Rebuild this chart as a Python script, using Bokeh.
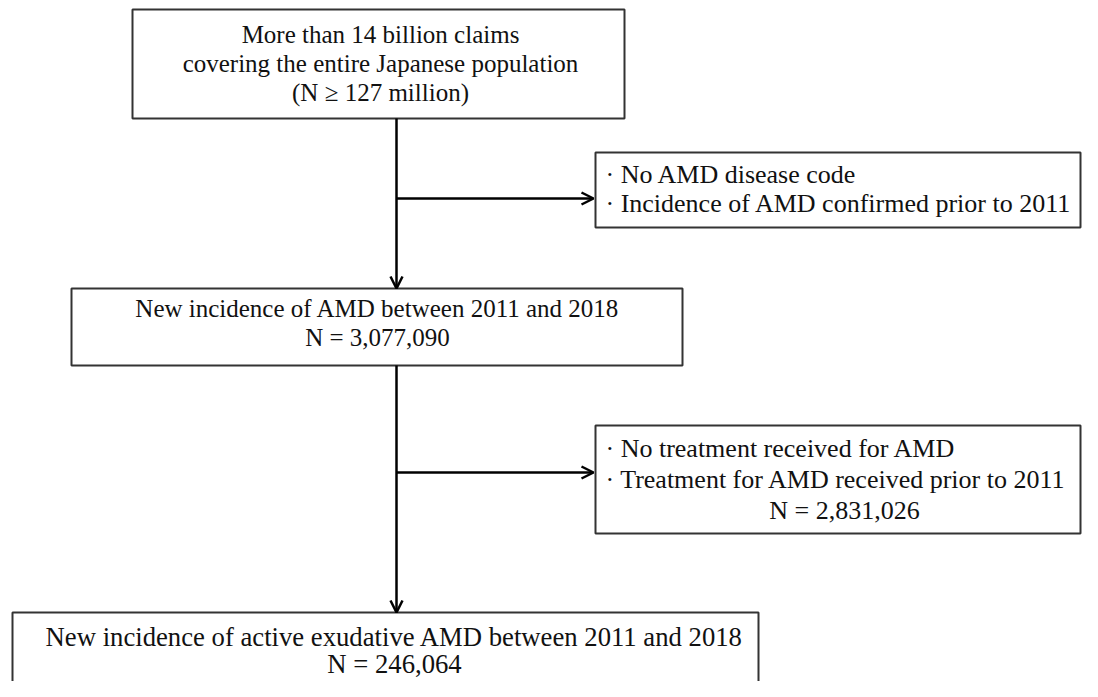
from bokeh.plotting import figure
from bokeh.models import Arrow, OpenHead, Range1d
from bokeh.core.properties import value
from bokeh.embed import file_html
from bokeh.resources import INLINE

# ---- data (flowchart texts / counts) ----
box_top_lines = ["More than 14 billion claims",
                 "covering the entire Japanese population",
                 "(N \u2265 127 million)"]
excl1_lines = ["\u00b7 No AMD disease code",
               "\u00b7 Incidence of AMD confirmed prior to 2011"]
box_mid_lines = ["New incidence of AMD between 2011 and 2018"]
box_mid_n = "3,077,090"
excl2_lines = ["\u00b7 No treatment received for AMD",
               "\u00b7 Treatment for AMD received prior to 2011"]
excl2_n = "2,831,026"
box_bot_lines = ["New incidence of active exudative AMD between 2011 and 2018"]
box_bot_n = "246,064"

# ---- layout (pixel-like coordinates, y downward) ----
FONT = value("Liberation Serif")
FS_A = "25px"     # main upper boxes
FS_B = "26px"     # exclusion boxes
FS_C = "26.7px"   # final box
p = figure(width=1082, height=681, output_backend="svg", toolbar_location=None,
           x_range=Range1d(0, 1082), y_range=Range1d(681, 0), min_border=0)
p.axis.visible = False
p.grid.visible = False
p.outline_line_color = None
p.background_fill_color = "white"

BORDER = "#333333"

def box(l, r, t, b):
    p.quad(left=[l], right=[r], top=[t], bottom=[b], fill_color="white",
           line_color=BORDER, line_width=2)

def centered(lines, cx, ys, fs):
    p.text(x=[cx] * len(lines), y=ys, text=lines, text_font=FONT,
           text_font_size=fs, text_align="center", text_baseline="alphabetic",
           text_color="#111111")

def lefttext(lines, lx, ys, fs):
    p.text(x=[lx] * len(lines), y=ys, text=lines, text_font=FONT,
           text_font_size=fs, text_align="left", text_baseline="alphabetic",
           text_color="#111111")

XL = 396  # main vertical line

def arrow(x0, y0, x1, y1):
    p.add_layout(Arrow(end=OpenHead(size=12, line_width=2.5, line_color="black"),
                       x_start=x0, y_start=y0, x_end=x1, y_end=y1,
                       line_width=2.5, line_color="black"))

RB_L, RB_R = 595, 1080
BOT_TOP = 612

arrow(XL, 118, XL, 288)
arrow(XL, 198, RB_L - 2, 198)
arrow(XL, 365, XL, BOT_TOP)
arrow(XL, 472, RB_L - 2, 472)

# boxes
box(132, 624, 9, 118)
centered(box_top_lines, 380, [34, 63, 92], FS_A)

box(RB_L, RB_R, 152, 227)
lefttext(excl1_lines, RB_L + 10, [174, 203], FS_B)

box(71, 682, 288, 365)
centered(box_mid_lines + ["N = " + box_mid_n], 377, [308, 337], FS_A)

box(RB_L, RB_R, 425, 533)
lefttext(excl2_lines, RB_L + 10, [448, 479], FS_B)
centered(["N = " + excl2_n], 844, [510], FS_B)

box(12, 758, BOT_TOP, 720)
centered(box_bot_lines + ["N = " + box_bot_n], 394, [636, 663], FS_C)

open("out.html", "w").write(file_html(p, INLINE))
